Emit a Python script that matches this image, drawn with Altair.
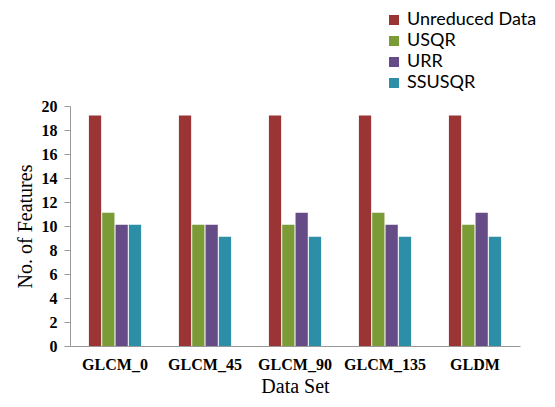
import altair as alt
import pandas as pd

datasets = ["GLCM_0", "GLCM_45", "GLCM_90", "GLCM_135", "GLDM"]
series = ["Unreduced Data", "USQR", "URR", "SSUSQR"]
unreduced = [19.2, 19.2, 19.2, 19.2, 19.2]
usqr = [11.1, 10.1, 10.1, 11.1, 10.1]
urr = [10.1, 10.1, 11.1, 10.1, 11.1]
ssusqr = [10.1, 9.1, 9.1, 9.1, 9.1]
colors = ["#9B3535", "#7A9B36", "#654C86", "#2C8EA7"]

rows = []
for i, d in enumerate(datasets):
    for s, vals in zip(series, [unreduced, usqr, urr, ssusqr]):
        rows.append({"Data Set": d, "Series": s, "Value": vals[i]})
df = pd.DataFrame(rows)

chart = alt.Chart(df).mark_bar(stroke=None).encode(
    x=alt.X("Data Set:N", sort=datasets,
            scale=alt.Scale(paddingInner=0.42, paddingOuter=0.21),
            axis=alt.Axis(title="Data Set", labelAngle=0, ticks=False,
                          labelFont="Liberation Serif", labelFontWeight="bold",
                          labelFontSize=16, labelColor="#000", labelPadding=10,
                          titleFont="Liberation Serif", titleFontWeight="normal",
                          titleFontSize=20, titleColor="#000", titlePadding=4,
                          domainColor="#999", grid=False)),
    xOffset=alt.XOffset("Series:N", sort=series,
                        scale=alt.Scale(paddingInner=0.08)),
    y=alt.Y("Value:Q",
            scale=alt.Scale(domain=[0, 20], nice=False),
            axis=alt.Axis(title="No. of Features", values=list(range(0, 21, 2)),
                          grid=False, tickSize=6, tickColor="#999", domainColor="#999",
                          labelFont="Liberation Serif", labelFontWeight="bold",
                          labelFontSize=16, labelColor="#000", labelPadding=7,
                          titleFont="Liberation Serif", titleFontWeight="normal",
                          titleFontSize=20, titleColor="#000", titlePadding=6)),
    color=alt.Color("Series:N", sort=series,
                    scale=alt.Scale(domain=series, range=colors),
                    legend=alt.Legend(title=None, orient="none", legendX=315, legendY=-95,
                                      symbolType="square", symbolSize=100,
                                      symbolStrokeWidth=0,
                                      labelFont="Lato", labelFontSize=18,
                                      labelColor="#000", rowPadding=3,
                                      labelOffset=4,
                                      labelLimit=300)),
).properties(
    width=450, height=240,
    padding={"left": 62, "top": 98, "right": 27, "bottom": 53},
    autosize=alt.AutoSizeParams(type="none"),
).configure_view(stroke=None)

chart.save("out.html", embed_options={"renderer": "svg", "actions": False})
